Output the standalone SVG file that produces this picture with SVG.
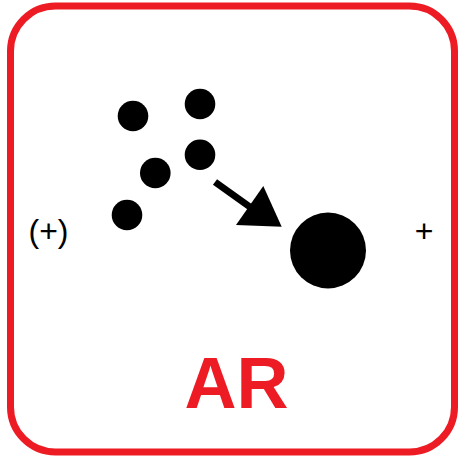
<svg xmlns="http://www.w3.org/2000/svg" width="459" height="460" viewBox="0 0 459 460">
<style>
.dot{fill:#000}
.lbl{font-family:"Liberation Sans",Arial,sans-serif;font-size:32px;fill:#000}
.title{font-family:"Liberation Sans",Arial,sans-serif;font-size:72px;font-weight:bold;fill:#ED1C24}
</style>
<rect id="frame" x="10.5" y="6" width="444" height="446" rx="45" ry="45" fill="#fff" stroke="#ED1C24" stroke-width="7"/>
<g id="reactants">
<circle class="dot" cx="133" cy="116" r="15.3"/>
<circle class="dot" cx="200" cy="104" r="15.3"/>
<circle class="dot" cx="155.3" cy="173" r="15.3"/>
<circle class="dot" cx="200" cy="154.7" r="15.3"/>
<circle class="dot" cx="127" cy="215" r="15.3"/>
</g>
<g id="product">
<circle class="dot" cx="328" cy="250.5" r="38"/>
</g>
<g id="connectors">
<line x1="215" y1="182" x2="250" y2="207" stroke="#000" stroke-width="7"/>
<polygon points="263.3,186 236,225 281.7,226.7" fill="#000"/>
</g>
<g id="label-left"><text class="lbl" x="28.5" y="242">(+)</text></g>
<g id="label-right"><text class="lbl" x="424" y="242" text-anchor="middle">+</text></g>
<g id="label-title"><text class="title" x="236.5" y="408" text-anchor="middle">AR</text></g>
</svg>
